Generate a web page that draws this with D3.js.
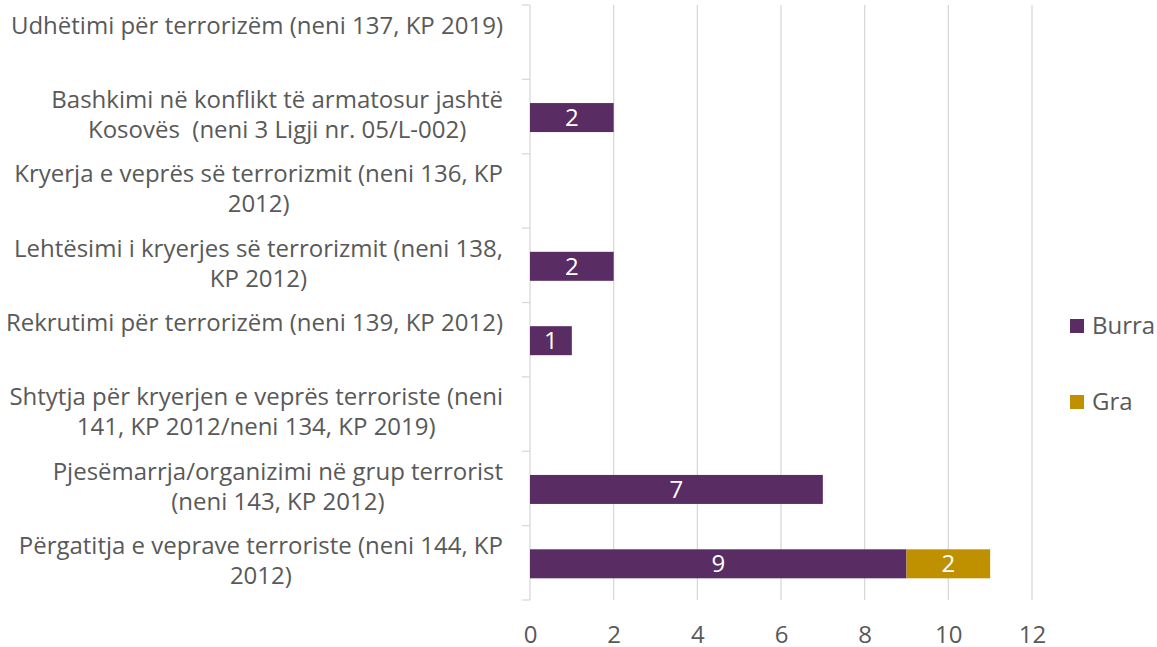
<!DOCTYPE html>
<html>
<head>
<meta charset="utf-8">
<script src="https://cdn.jsdelivr.net/npm/d3@7"></script>
<style>
  html, body { margin: 0; padding: 0; background: #ffffff; }
  svg { display: block; font-family: "Open Sans", sans-serif; }
</style>
</head>
<body>
<svg id="chart" width="1157" height="647"></svg>
<script>
const categories = [
  "Udhëtimi për terrorizëm (neni 137, KP 2019)",
  "Bashkimi në konflikt të armatosur jashtë\nKosovës  (neni 3 Ligji nr. 05/L-002)",
  "Kryerja e veprës së terrorizmit (neni 136, KP\n2012)",
  "Lehtësimi i kryerjes së terrorizmit (neni 138,\nKP 2012)",
  "Rekrutimi për terrorizëm (neni 139, KP 2012)",
  "Shtytja për kryerjen e veprës terroriste (neni\n141, KP 2012/neni 134, KP 2019)",
  "Pjesëmarrja/organizimi në grup terrorist\n(neni 143, KP 2012)",
  "Përgatitja e veprave terroriste (neni 144, KP\n2012)"
];
const seriesNames = ["Burra", "Gra"];
const burra = [0, 2, 0, 2, 1, 0, 7, 9];
const gra   = [0, 0, 0, 0, 0, 0, 0, 2];
const xTicks = [0, 2, 4, 6, 8, 10, 12];
const colors = ["#592c63", "#bf9000"];

const svg = d3.select("#chart");
const textColor = "#595959";
const fontSize = 24;

const x = d3.scaleLinear().domain([0, 12]).range([530, 1032]);
const y = d3.scaleBand().domain(categories).range([5, 600]).paddingInner(0).paddingOuter(0);
const barH = 29;

// gridlines
svg.append("g").selectAll("line").data(xTicks.filter(t => t > 0)).join("line")
  .attr("x1", d => x(d)).attr("x2", d => x(d))
  .attr("y1", 5).attr("y2", 600)
  .attr("stroke", "#d9d9d9").attr("stroke-width", 1.3);

// bottom tick labels (no axis line)
const xAxis = d3.axisBottom(x).tickValues(xTicks).tickSize(0).tickPadding(0).tickFormat(d3.format("d"));
const gx = svg.append("g").attr("transform", "translate(0,635)").call(xAxis);
gx.select(".domain").remove();
gx.selectAll("text").attr("fill", textColor).attr("font-size", fontSize)
  .attr("font-family", "Open Sans").attr("dy", "0.35em").attr("y", 0);

// left axis line with ticks at band boundaries
const bounds = categories.map(c => y(c)).concat([600]);
svg.append("line").attr("x1", 530).attr("x2", 530).attr("y1", 5).attr("y2", 600)
  .attr("stroke", "#d9d9d9").attr("stroke-width", 1.3);
svg.append("g").selectAll("line").data(bounds).join("line")
  .attr("x1", 522).attr("x2", 530).attr("y1", d => d).attr("y2", d => d)
  .attr("stroke", "#d9d9d9").attr("stroke-width", 1.3);

// stacked data
const rows = categories.map((c, i) => ({ cat: c, Burra: burra[i], Gra: gra[i] }));
const stack = d3.stack().keys(seriesNames)(rows);

const layers = svg.append("g").selectAll("g").data(stack).join("g")
  .attr("fill", (d, i) => colors[i]);
layers.selectAll("rect").data(d => d.filter(s => s[1] - s[0] > 0)).join("rect")
  .attr("x", d => x(d[0]))
  .attr("width", d => x(d[1]) - x(d[0]))
  .attr("y", d => y(d.data.cat) + y.bandwidth() / 2 - barH / 2 + 1)
  .attr("height", barH);

// bar labels
layers.selectAll("text").data(d => d.filter(s => s[1] - s[0] > 0)).join("text")
  .attr("x", d => (x(d[0]) + x(d[1])) / 2)
  .attr("y", d => y(d.data.cat) + y.bandwidth() / 2 + 1)
  .attr("dy", "0.35em")
  .attr("text-anchor", "middle")
  .attr("fill", "#ffffff")
  .attr("font-size", fontSize)
  .text(d => d[1] - d[0]);

// category labels
const labelRight = 503;
categories.forEach(c => {
  const lines = c.split("\n");
  const cy = y(c) + y.bandwidth() / 2;
  const g = svg.append("g");
  const texts = lines.map((ln, j) => g.append("text")
    .attr("y", cy + (j === 0 ? -17 : 13))
    .attr("dy", "0.35em")
    .attr("text-anchor", "middle")
    .attr("fill", textColor)
    .attr("font-size", fontSize)
    .attr("xml:space", "preserve")
    .style("white-space", "pre")
    .text(ln));
  const maxW = d3.max(texts, t => t.node().getComputedTextLength());
  texts.forEach(t => t.attr("x", labelRight - maxW / 2));
});

// legend
const legend = svg.append("g").selectAll("g").data(seriesNames).join("g")
  .attr("transform", (d, i) => `translate(1070,${326 + i * 76})`);
legend.append("rect").attr("x", 0).attr("y", -7).attr("width", 14).attr("height", 14)
  .attr("fill", (d, i) => colors[i]);
legend.append("text").attr("x", 22).attr("y", 0).attr("dy", "0.35em")
  .attr("fill", textColor).attr("font-size", fontSize).text(d => d);
</script>
</body>
</html>
